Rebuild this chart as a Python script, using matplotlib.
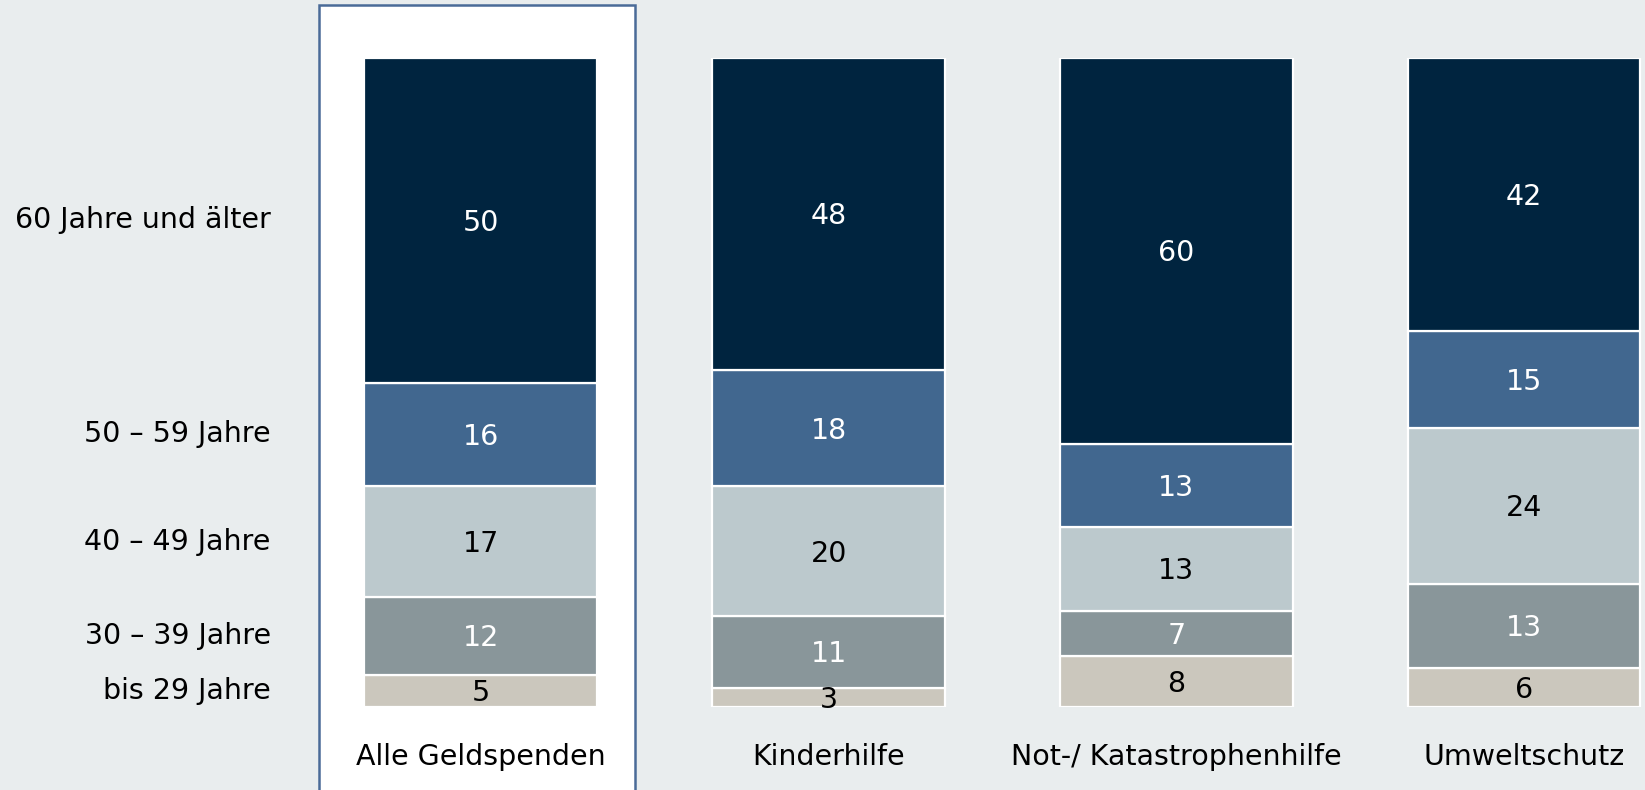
import numpy as np
import matplotlib.pyplot as plt
from matplotlib.patches import Rectangle

categories = ['Alle Geldspenden', 'Kinderhilfe', 'Not-/ Katastrophenhilfe', 'Umweltschutz']
age_groups = ['bis 29 Jahre', '30 – 39 Jahre', '40 – 49 Jahre', '50 – 59 Jahre', '60 Jahre und älter']
bis29 = [5, 3, 8, 6]
j30_39 = [12, 11, 7, 13]
j40_49 = [17, 20, 13, 24]
j50_59 = [16, 18, 13, 15]
j60plus = [50, 48, 60, 42]

colors = ['#CBC7BD', '#89969A', '#BCC9CD', '#41678F', '#00243F']
text_colors = ['black', 'white', 'black', 'white', 'white']

plt.rcParams['font.family'] = ['DejaVu Sans']

fig = plt.figure(figsize=(16.45, 7.9), dpi=100, facecolor='#E9EDEE')
ax = fig.add_axes([0, 83 / 790, 1, 649 / 790])
ax.set_facecolor('none')

x = np.arange(len(categories))
series = np.array([bis29, j30_39, j40_49, j50_59, j60plus], dtype=float)
# bars are drawn to full height (rounded shares)
shares = series / series.sum(axis=0) * 100

# white panel behind the first bar
ax.add_patch(Rectangle((-0.466, -20), 0.909, 128.2, facecolor='white',
                       edgecolor='#4A6B98', linewidth=1.8, clip_on=False, zorder=0))

bottom = np.zeros(len(categories))
for i, (vals, sh) in enumerate(zip(series, shares)):
    ax.bar(x, sh, bottom=bottom, width=0.67, color=colors[i],
           edgecolor='white', linewidth=1.6, zorder=2)
    for xi, v, s, b in zip(x, vals, sh, bottom):
        ax.text(xi, b + s / 2 - 0.4, f'{int(v)}', ha='center', va='center',
                fontsize=20.5, color=text_colors[i], zorder=3)
    # row labels on the left, aligned with the first bar
    ax.text(-0.604, bottom[0] + sh[0] / 2, age_groups[i], ha='right', va='center',
            fontsize=20.5, color='black')
    bottom += sh

for xi, c in zip(x, categories):
    ax.text(xi, -7.7, c, ha='center', va='center', fontsize=20.5, color='black')

ax.set_xlim(-1.383, 3.348)
ax.set_ylim(0, 100)
ax.axis('off')

fig.savefig('out.png', dpi=100, facecolor=fig.get_facecolor())
